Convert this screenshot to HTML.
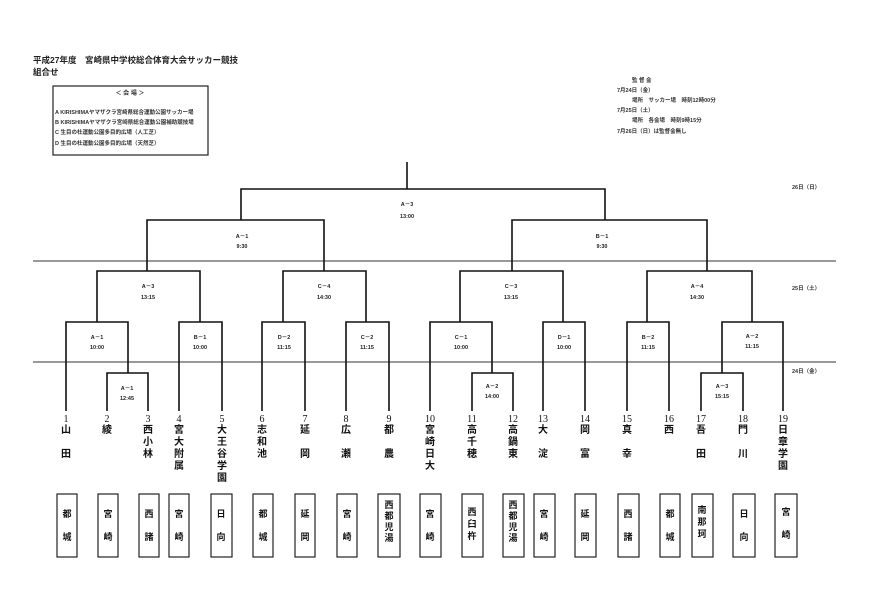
<!DOCTYPE html>
<html><head><meta charset="utf-8"><style>
html,body{margin:0;padding:0;background:#fff;}
svg{display:block;font-family:"Liberation Serif","Noto Serif CJK SC","Noto Sans CJK JP",serif;}
</style></head><body>
<svg width="872" height="596" viewBox="0 0 872 596" xmlns="http://www.w3.org/2000/svg">
<rect width="872" height="596" fill="#fff"/>
<g font-family="Liberation Sans,Noto Sans CJK JP,sans-serif" font-weight="bold" fill="#222">
<text x="33" y="63" font-size="8.5">平成27年度　宮崎県中学校総合体育大会サッカー競技</text>
<text x="33" y="75" font-size="8.5">組合せ</text>
</g>
<rect x="53" y="86" width="155" height="69" fill="none" stroke="#222" stroke-width="1.2"/>
<g font-family="Liberation Sans,Noto Sans CJK JP,sans-serif" font-weight="bold" fill="#333" font-size="5.5">
<text x="130" y="95" text-anchor="middle" font-size="6">＜ 会 場 ＞</text>
<text x="55" y="114">A KIRISHIMAヤマザクラ宮崎県総合運動公園サッカー場</text>
<text x="55" y="124">B KIRISHIMAヤマザクラ宮崎県総合運動公園補助競技場</text>
<text x="55" y="134">C 生目の杜運動公園多目的広場（人工芝）</text>
<text x="55" y="145">D 生目の杜運動公園多目的広場（天然芝）</text>
<text x="632" y="82">監 督 会</text>
<text x="617" y="92">7月24日（金）</text>
<text x="632" y="102">場所　サッカー場　時刻12時00分</text>
<text x="617" y="112">7月25日（土）</text>
<text x="632" y="122">場所　各会場　時刻9時15分</text>
<text x="617" y="133">7月26日（日）は監督会無し</text>
<text x="792" y="189">26日（日）</text>
<text x="792" y="290">25日（土）</text>
<text x="792" y="373">24日（金）</text>
</g>
<g stroke="#333" stroke-width="1"><line x1="33" y1="261" x2="836" y2="261"/><line x1="33" y1="362" x2="836" y2="362"/></g>
<g fill="none" stroke="#111" stroke-width="1.6">
<path d="M407 162V189"/>
<path d="M241 220V189H605V220"/>
<path d="M147 271V220H324V271"/>
<path d="M512 271V220H707V271"/>
<path d="M97 322V271H200V322"/>
<path d="M283 322V271H366V322"/>
<path d="M460 322V271H563V322"/>
<path d="M647 322V271H752V322"/>
<path d="M66 411V322H128V373"/>
<path d="M107 411V373H148V411"/>
<path d="M179 411V322H222V411"/>
<path d="M262 411V322H305V411"/>
<path d="M346 411V322H389V411"/>
<path d="M430 411V322H492V373"/>
<path d="M472 411V373H513V411"/>
<path d="M543 411V322H585V411"/>
<path d="M627 411V322H669V411"/>
<path d="M701 411V373H743V411"/>
<path d="M722 373V322H783V411"/>
</g>
<g font-family="Liberation Sans,Noto Sans CJK JP,sans-serif" font-weight="bold" fill="#222" text-anchor="middle" font-size="5.5">
<text x="407" y="206">A－3</text><text x="407" y="218">13:00</text>
<text x="242" y="238">A－1</text><text x="242" y="248">9:30</text>
<text x="602" y="238">B－1</text><text x="602" y="248">9:30</text>
<text x="148" y="288">A－3</text><text x="148" y="299">13:15</text>
<text x="324" y="288">C－4</text><text x="324" y="299">14:30</text>
<text x="511" y="288">C－3</text><text x="511" y="299">13:15</text>
<text x="697" y="288">A－4</text><text x="697" y="299">14:30</text>
<text x="97" y="339">A－1</text><text x="97" y="349">10:00</text>
<text x="200" y="339">B－1</text><text x="200" y="349">10:00</text>
<text x="284" y="339">D－2</text><text x="284" y="349">11:15</text>
<text x="367" y="339">C－2</text><text x="367" y="349">11:15</text>
<text x="461" y="339">C－1</text><text x="461" y="349">10:00</text>
<text x="564" y="339">D－1</text><text x="564" y="349">10:00</text>
<text x="648" y="339">B－2</text><text x="648" y="349">11:15</text>
<text x="752" y="338">A－2</text><text x="752" y="348">11:15</text>
<text x="127" y="390">A－1</text><text x="127" y="400">12:45</text>
<text x="492" y="388">A－2</text><text x="492" y="398">14:00</text>
<text x="722" y="388">A－3</text><text x="722" y="398">15:15</text>
</g>
<g font-family="Liberation Serif,Noto Serif CJK SC,serif" fill="#111" text-anchor="middle" font-size="10">
<text x="66" y="422">1</text><text x="107" y="422">2</text><text x="148" y="422">3</text><text x="179" y="422">4</text><text x="222" y="422">5</text><text x="262" y="422">6</text><text x="305" y="422">7</text><text x="346" y="422">8</text><text x="389" y="422">9</text><text x="430" y="422">10</text><text x="472" y="422">11</text><text x="513" y="422">12</text><text x="543" y="422">13</text><text x="585" y="422">14</text><text x="627" y="422">15</text><text x="669" y="422">16</text><text x="701" y="422">17</text><text x="743" y="422">18</text><text x="783" y="422">19</text>
</g>
<g font-family="Liberation Sans,Noto Sans CJK JP,sans-serif" font-weight="bold" fill="#111" text-anchor="middle" font-size="10">
<text x="66" y="433">山</text><text x="66" y="457">田</text>
<text x="107" y="433">綾</text>
<text x="148" y="433">西</text><text x="148" y="445">小</text><text x="148" y="457">林</text>
<text x="179" y="433">宮</text><text x="179" y="445">大</text><text x="179" y="457">附</text><text x="179" y="469">属</text>
<text x="222" y="433">大</text><text x="222" y="445">王</text><text x="222" y="457">谷</text><text x="222" y="469">学</text><text x="222" y="481">園</text>
<text x="262" y="433">志</text><text x="262" y="445">和</text><text x="262" y="457">池</text>
<text x="305" y="433">延</text><text x="305" y="457">岡</text>
<text x="346" y="433">広</text><text x="346" y="457">瀬</text>
<text x="389" y="433">都</text><text x="389" y="457">農</text>
<text x="430" y="433">宮</text><text x="430" y="445">崎</text><text x="430" y="457">日</text><text x="430" y="469">大</text>
<text x="472" y="433">高</text><text x="472" y="445">千</text><text x="472" y="457">穂</text>
<text x="513" y="433">高</text><text x="513" y="445">鍋</text><text x="513" y="457">東</text>
<text x="543" y="433">大</text><text x="543" y="457">淀</text>
<text x="585" y="433">岡</text><text x="585" y="457">富</text>
<text x="627" y="433">真</text><text x="627" y="457">幸</text>
<text x="669" y="433">西</text>
<text x="701" y="433">吾</text><text x="701" y="457">田</text>
<text x="743" y="433">門</text><text x="743" y="457">川</text>
<text x="783" y="433">日</text><text x="783" y="445">章</text><text x="783" y="457">学</text><text x="783" y="469">園</text>
</g>
<g fill="none" stroke="#222" stroke-width="1.2">
<rect x="57" y="494" width="20" height="63"/><rect x="98" y="494" width="20" height="63"/><rect x="139" y="494" width="20" height="63"/><rect x="169" y="494" width="20" height="63"/><rect x="211" y="494" width="21" height="63"/><rect x="253" y="494" width="20" height="63"/><rect x="295" y="494" width="20" height="63"/><rect x="337" y="494" width="20" height="63"/><rect x="378" y="494" width="22" height="63"/><rect x="420" y="494" width="21" height="63"/><rect x="462" y="494" width="21" height="63"/><rect x="503" y="494" width="21" height="63"/><rect x="534" y="494" width="21" height="63"/><rect x="575" y="494" width="21" height="63"/><rect x="618" y="494" width="21" height="63"/><rect x="660" y="494" width="20" height="63"/><rect x="692" y="494" width="21" height="63"/><rect x="733" y="494" width="22" height="63"/><rect x="775" y="494" width="22" height="63"/>
</g>
<g font-family="Liberation Sans,Noto Sans CJK JP,sans-serif" font-weight="bold" fill="#111" text-anchor="middle" font-size="9">
<text x="67" y="517">都</text><text x="67" y="540">城</text>
<text x="108" y="517">宮</text><text x="108" y="540">崎</text>
<text x="149" y="517">西</text><text x="149" y="540">諸</text>
<text x="179" y="517">宮</text><text x="179" y="540">崎</text>
<text x="221" y="517">日</text><text x="221" y="540">向</text>
<text x="263" y="517">都</text><text x="263" y="540">城</text>
<text x="305" y="517">延</text><text x="305" y="540">岡</text>
<text x="347" y="517">宮</text><text x="347" y="540">崎</text>
<text x="389" y="508">西</text><text x="389" y="519">都</text><text x="389" y="530">児</text><text x="389" y="541">湯</text>
<text x="430" y="517">宮</text><text x="430" y="540">崎</text>
<text x="472" y="515">西</text><text x="472" y="527">臼</text><text x="472" y="539">杵</text>
<text x="513" y="508">西</text><text x="513" y="519">都</text><text x="513" y="530">児</text><text x="513" y="541">湯</text>
<text x="544" y="517">宮</text><text x="544" y="540">崎</text>
<text x="585" y="517">延</text><text x="585" y="540">岡</text>
<text x="628" y="517">西</text><text x="628" y="540">諸</text>
<text x="670" y="517">都</text><text x="670" y="540">城</text>
<text x="702" y="513">南</text><text x="702" y="525">那</text><text x="702" y="537">珂</text>
<text x="744" y="517">日</text><text x="744" y="540">向</text>
<text x="786" y="515">宮</text><text x="786" y="538">崎</text>
</g>
</svg>
</body></html>
